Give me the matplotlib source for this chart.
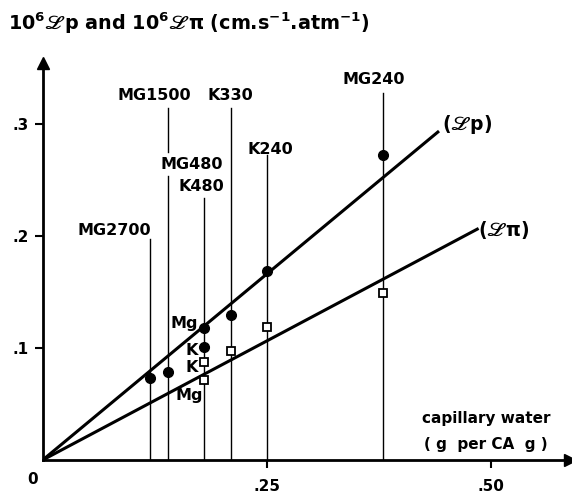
import numpy as np
import matplotlib
matplotlib.use('Agg')
import matplotlib.pyplot as plt

plt.rcParams['font.family'] = ['DejaVu Sans']
plt.rcParams['font.weight'] = 'bold'
plt.rcParams['mathtext.fontset'] = 'stix'
plt.rcParams['mathtext.default'] = 'regular'

# capillary water (g per CA g) and conductivities (x 1e6)
lp_x = [0.12, 0.14, 0.18, 0.18, 0.21, 0.25, 0.38]
lp_y = [0.073, 0.079, 0.118, 0.101, 0.1295, 0.169, 0.272]
lpi_x = [0.18, 0.18, 0.21, 0.25, 0.38]
lpi_y = [0.0875, 0.071, 0.097, 0.119, 0.149]

# fitted lines through the origin
lp_slope = 0.664
lp_end = 0.441
lpi_slope = 0.425
lpi_end = 0.485

# membrane samples marked by vertical lines
sample_names = ['MG2700', 'MG1500', 'MG480', 'K480', 'K330', 'K240', 'MG240']
sample_x = [0.12, 0.14, 0.18, 0.18, 0.21, 0.25, 0.38]

xticks = [0.25, 0.50]
xtick_labels = ['.25', '.50']
yticks = [0.1, 0.2, 0.3]
ytick_labels = ['.1', '.2', '.3']

W, H = 572, 496
fig = plt.figure(figsize=(W / 100, H / 100), dpi=100)
x0px, y0px = 42.7, 460.0
xr_px, yt_px = 570.0, 63.0
ax = fig.add_axes([x0px / W, 1 - y0px / H, (xr_px - x0px) / W, (y0px - yt_px) / H])
ax.set_xlim(0, (xr_px - x0px) / 896)
ax.set_ylim(0, (y0px - yt_px) / 1120)

for s in ['top', 'right']:
    ax.spines[s].set_visible(False)
for s in ['left', 'bottom']:
    ax.spines[s].set_linewidth(2)
ax.plot(0, 1, marker='^', color='black', ms=8, transform=ax.transAxes, clip_on=False)
ax.plot(1, 0, marker='>', color='black', ms=8, transform=ax.transAxes, clip_on=False)

ax.set_xticks(xticks)
ax.set_xticklabels(xtick_labels)
ax.set_yticks(yticks)
ax.set_yticklabels(ytick_labels)
ax.tick_params(axis='both', direction='out', length=6, width=1.5, labelsize=11, pad=4)
ax.tick_params(axis='x', pad=8)
ax.text(-0.011, -0.011, '0', fontsize=11, ha='center', va='top')

# vertical sample lines (segments: x, bottom, top)
segments = [(0.12, 0, 0.197), (0.14, 0, 0.254), (0.14, 0.275, 0.314),
            (0.18, 0, 0.234), (0.21, 0, 0.314), (0.25, 0, 0.272), (0.38, 0, 0.328)]
for x, yb, yt in segments:
    ax.plot([x, x], [yb, yt], color='black', lw=1.0)

label_pos = [(0.121, 0.205, 'right'), (0.1245, 0.325, 'center'), (0.1667, 0.264, 'center'),
             (0.177, 0.2446, 'center'), (0.2096, 0.325, 'center'), (0.2546, 0.2768, 'center'),
             (0.369, 0.340, 'center')]
for name, (tx, ty, ha) in zip(sample_names, label_pos):
    ax.text(tx, ty, name, fontsize=11.5, ha=ha, va='center')

# fitted lines
xs = np.array([0, lp_end])
ax.plot(xs, lp_slope * xs, color='black', lw=2.2)
xs = np.array([0, lpi_end])
ax.plot(xs, lpi_slope * xs, color='black', lw=2.2)

ax.plot(lp_x, lp_y, 'o', color='black', ms=7, zorder=5)
ax.plot(lpi_x, lpi_y, 's', mfc='white', mec='black', mew=1.3, ms=6, zorder=5)

ax.text(0.1585, 0.122, 'Mg', fontsize=11.5, ha='center', va='center')
ax.text(0.166, 0.098, 'K', fontsize=11.5, ha='center', va='center')
ax.text(0.166, 0.083, 'K', fontsize=11.5, ha='center', va='center')
ax.text(0.1635, 0.058, 'Mg', fontsize=11.5, ha='center', va='center')

ax.text(0.446, 0.2995, r'($\mathscr{L}$p)', fontsize=13.5, ha='left', va='center')
ax.text(0.486, 0.205, r'($\mathscr{L}$π)', fontsize=13.5, ha='left', va='center')

ax.text(0.495, 0.0375, 'capillary water', fontsize=11, ha='center', va='center')
ax.text(0.495, 0.0135, '( g  per CA  g )', fontsize=11, ha='center', va='center')

fig.text(8 / W, 1 - 23 / H,
         r'10$^{6}\mathscr{L}$p and 10$^{6}\mathscr{L}$π (cm.s$^{-1}$.atm$^{-1}$)',
         fontsize=13.8, ha='left', va='center')

fig.savefig('out.png', dpi=100)
